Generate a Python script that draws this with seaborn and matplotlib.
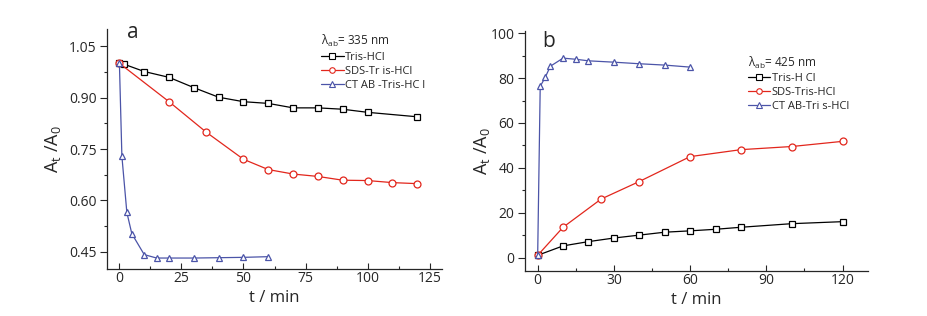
import numpy as np
import pandas as pd
import seaborn as sns
import matplotlib.pyplot as plt
from matplotlib.lines import Line2D
from matplotlib.ticker import MultipleLocator, FormatStrFormatter

# ---- panel a : lambda_ab = 335 nm ----
a_tris_t = [0, 2, 10, 20, 30, 40, 50, 60, 70, 80, 90, 100, 120]
a_tris_y = [1.0, 0.997, 0.976, 0.959, 0.929, 0.901, 0.888, 0.883, 0.870, 0.870, 0.866, 0.857, 0.844]
a_sds_t = [0, 20, 35, 50, 60, 70, 80, 90, 100, 110, 120]
a_sds_y = [1.0, 0.888, 0.799, 0.720, 0.690, 0.677, 0.670, 0.659, 0.658, 0.652, 0.649]
a_ctab_t = [0, 1, 3, 5, 10, 15, 20, 30, 40, 50, 60]
a_ctab_y = [1.0, 0.729, 0.565, 0.503, 0.442, 0.432, 0.432, 0.432, 0.433, 0.434, 0.436]

# ---- panel b : lambda_ab = 425 nm ----
b_tris_t = [0, 10, 20, 30, 40, 50, 60, 70, 80, 100, 120]
b_tris_y = [1.0, 5.2, 7.1, 8.7, 10.0, 11.3, 11.9, 12.6, 13.5, 15.1, 16.0]
b_sds_t = [0, 10, 25, 40, 60, 80, 100, 120]
b_sds_y = [1.0, 13.5, 26.1, 33.9, 45.0, 48.1, 49.5, 51.8]
b_ctab_t = [0, 1, 3, 5, 10, 15, 20, 30, 40, 50, 60]
b_ctab_y = [1.0, 76.3, 80.4, 85.3, 88.9, 88.4, 87.7, 87.1, 86.4, 85.8, 84.9]

labels_a = ["Tris-HCl", "SDS-Tr is-HCl", "CT AB -Tris-HC l"]
labels_b = ["Tris-H Cl", "SDS-Tris-HCl", "CT AB-Tri s-HCl"]

colors = ["black", "#e2261c", "#4b54a8"]
markers = ["s", "o", "^"]

sns.set_style("ticks")
plt.rcParams['font.family'] = ['Open Sans', 'DejaVu Sans']
plt.rcParams['mathtext.default'] = 'regular'
plt.rcParams['xtick.direction'] = 'in'   # x ticks point inward in the original
plt.rcParams['ytick.direction'] = 'out'

fig = plt.figure(figsize=(9.28, 3.16), dpi=100)
ax1 = fig.add_axes([0.1153, 0.1487, 0.361, 0.7595])
ax2 = fig.add_axes([0.5657, 0.1424, 0.3696, 0.7595])


def draw(ax, series, labels, title):
    handles = []
    for (t, y), lab, c, m in zip(series, labels, colors, markers):
        df = pd.DataFrame({"t": t, "y": y})
        sns.lineplot(data=df, x="t", y="y", ax=ax, color=c, marker=m, markersize=5,
                     markerfacecolor="white", markeredgecolor=c, markeredgewidth=0.9,
                     linewidth=0.9, estimator=None, sort=False)
        handles.append(Line2D([], [], color=c, marker=m, markersize=4, markerfacecolor="white",
                              markeredgecolor=c, markeredgewidth=0.8, linewidth=0.9, label=lab))
    leg = ax.legend(handles=handles, title=title, frameon=False, fontsize=8,
                    title_fontsize=8.5, handlelength=2.0, handletextpad=0.15,
                    labelspacing=0.25, borderaxespad=0.2, loc="upper left")
    leg._legend_box.align = "left"
    sns.despine(ax=ax)
    ax.set_xlabel("t / min", fontsize=12, labelpad=3)
    ax.set_ylabel("A$_t$ /A$_0$", fontsize=13)
    ax.tick_params(axis="x", direction="in", labelsize=10, length=4.5, width=0.8, pad=1.5)
    ax.tick_params(axis="x", which="minor", direction="in", length=2.5, width=0.8)
    ax.tick_params(axis="y", direction="out", labelsize=10, length=5, width=0.8, pad=2.5)
    ax.tick_params(axis="y", which="minor", direction="out", length=2.5, width=0.8)
    for s in ax.spines.values():
        s.set_linewidth(0.9)


draw(ax1, [(a_tris_t, a_tris_y), (a_sds_t, a_sds_y), (a_ctab_t, a_ctab_y)], labels_a,
     r"$\lambda_{ab}$= 335 nm")
ax1.set_xlim(-5, 130)
ax1.set_ylim(0.40, 1.10)
ax1.xaxis.set_major_locator(MultipleLocator(25))
ax1.xaxis.set_minor_locator(MultipleLocator(12.5))
ax1.yaxis.set_minor_locator(MultipleLocator(0.075))
ax1.set_yticks([0.45, 0.60, 0.75, 0.90, 1.05])
ax1.yaxis.set_major_formatter(FormatStrFormatter("%.2f"))
ax1.text(0.06, 0.985, "a", transform=ax1.transAxes, fontsize=15, va="center")
ax1.get_legend().set_bbox_to_anchor((0.62, 1.01))

draw(ax2, [(b_tris_t, b_tris_y), (b_sds_t, b_sds_y), (b_ctab_t, b_ctab_y)], labels_b,
     r"$\lambda_{ab}$= 425 nm")
ax2.set_xlim(-5, 130)
ax2.set_ylim(-6, 101)
ax2.xaxis.set_major_locator(MultipleLocator(30))
ax2.xaxis.set_minor_locator(MultipleLocator(15))
ax2.yaxis.set_minor_locator(MultipleLocator(10))
ax2.set_yticks([0, 20, 40, 60, 80, 100])
ax2.text(0.05, 0.958, "b", transform=ax2.transAxes, fontsize=15, va="center")
ax2.get_legend().set_bbox_to_anchor((0.63, 0.93))

ax1.yaxis.set_label_coords(-0.13, 0.5)
ax2.yaxis.set_label_coords(-0.095, 0.5)

fig.savefig("out.png", dpi=100)
